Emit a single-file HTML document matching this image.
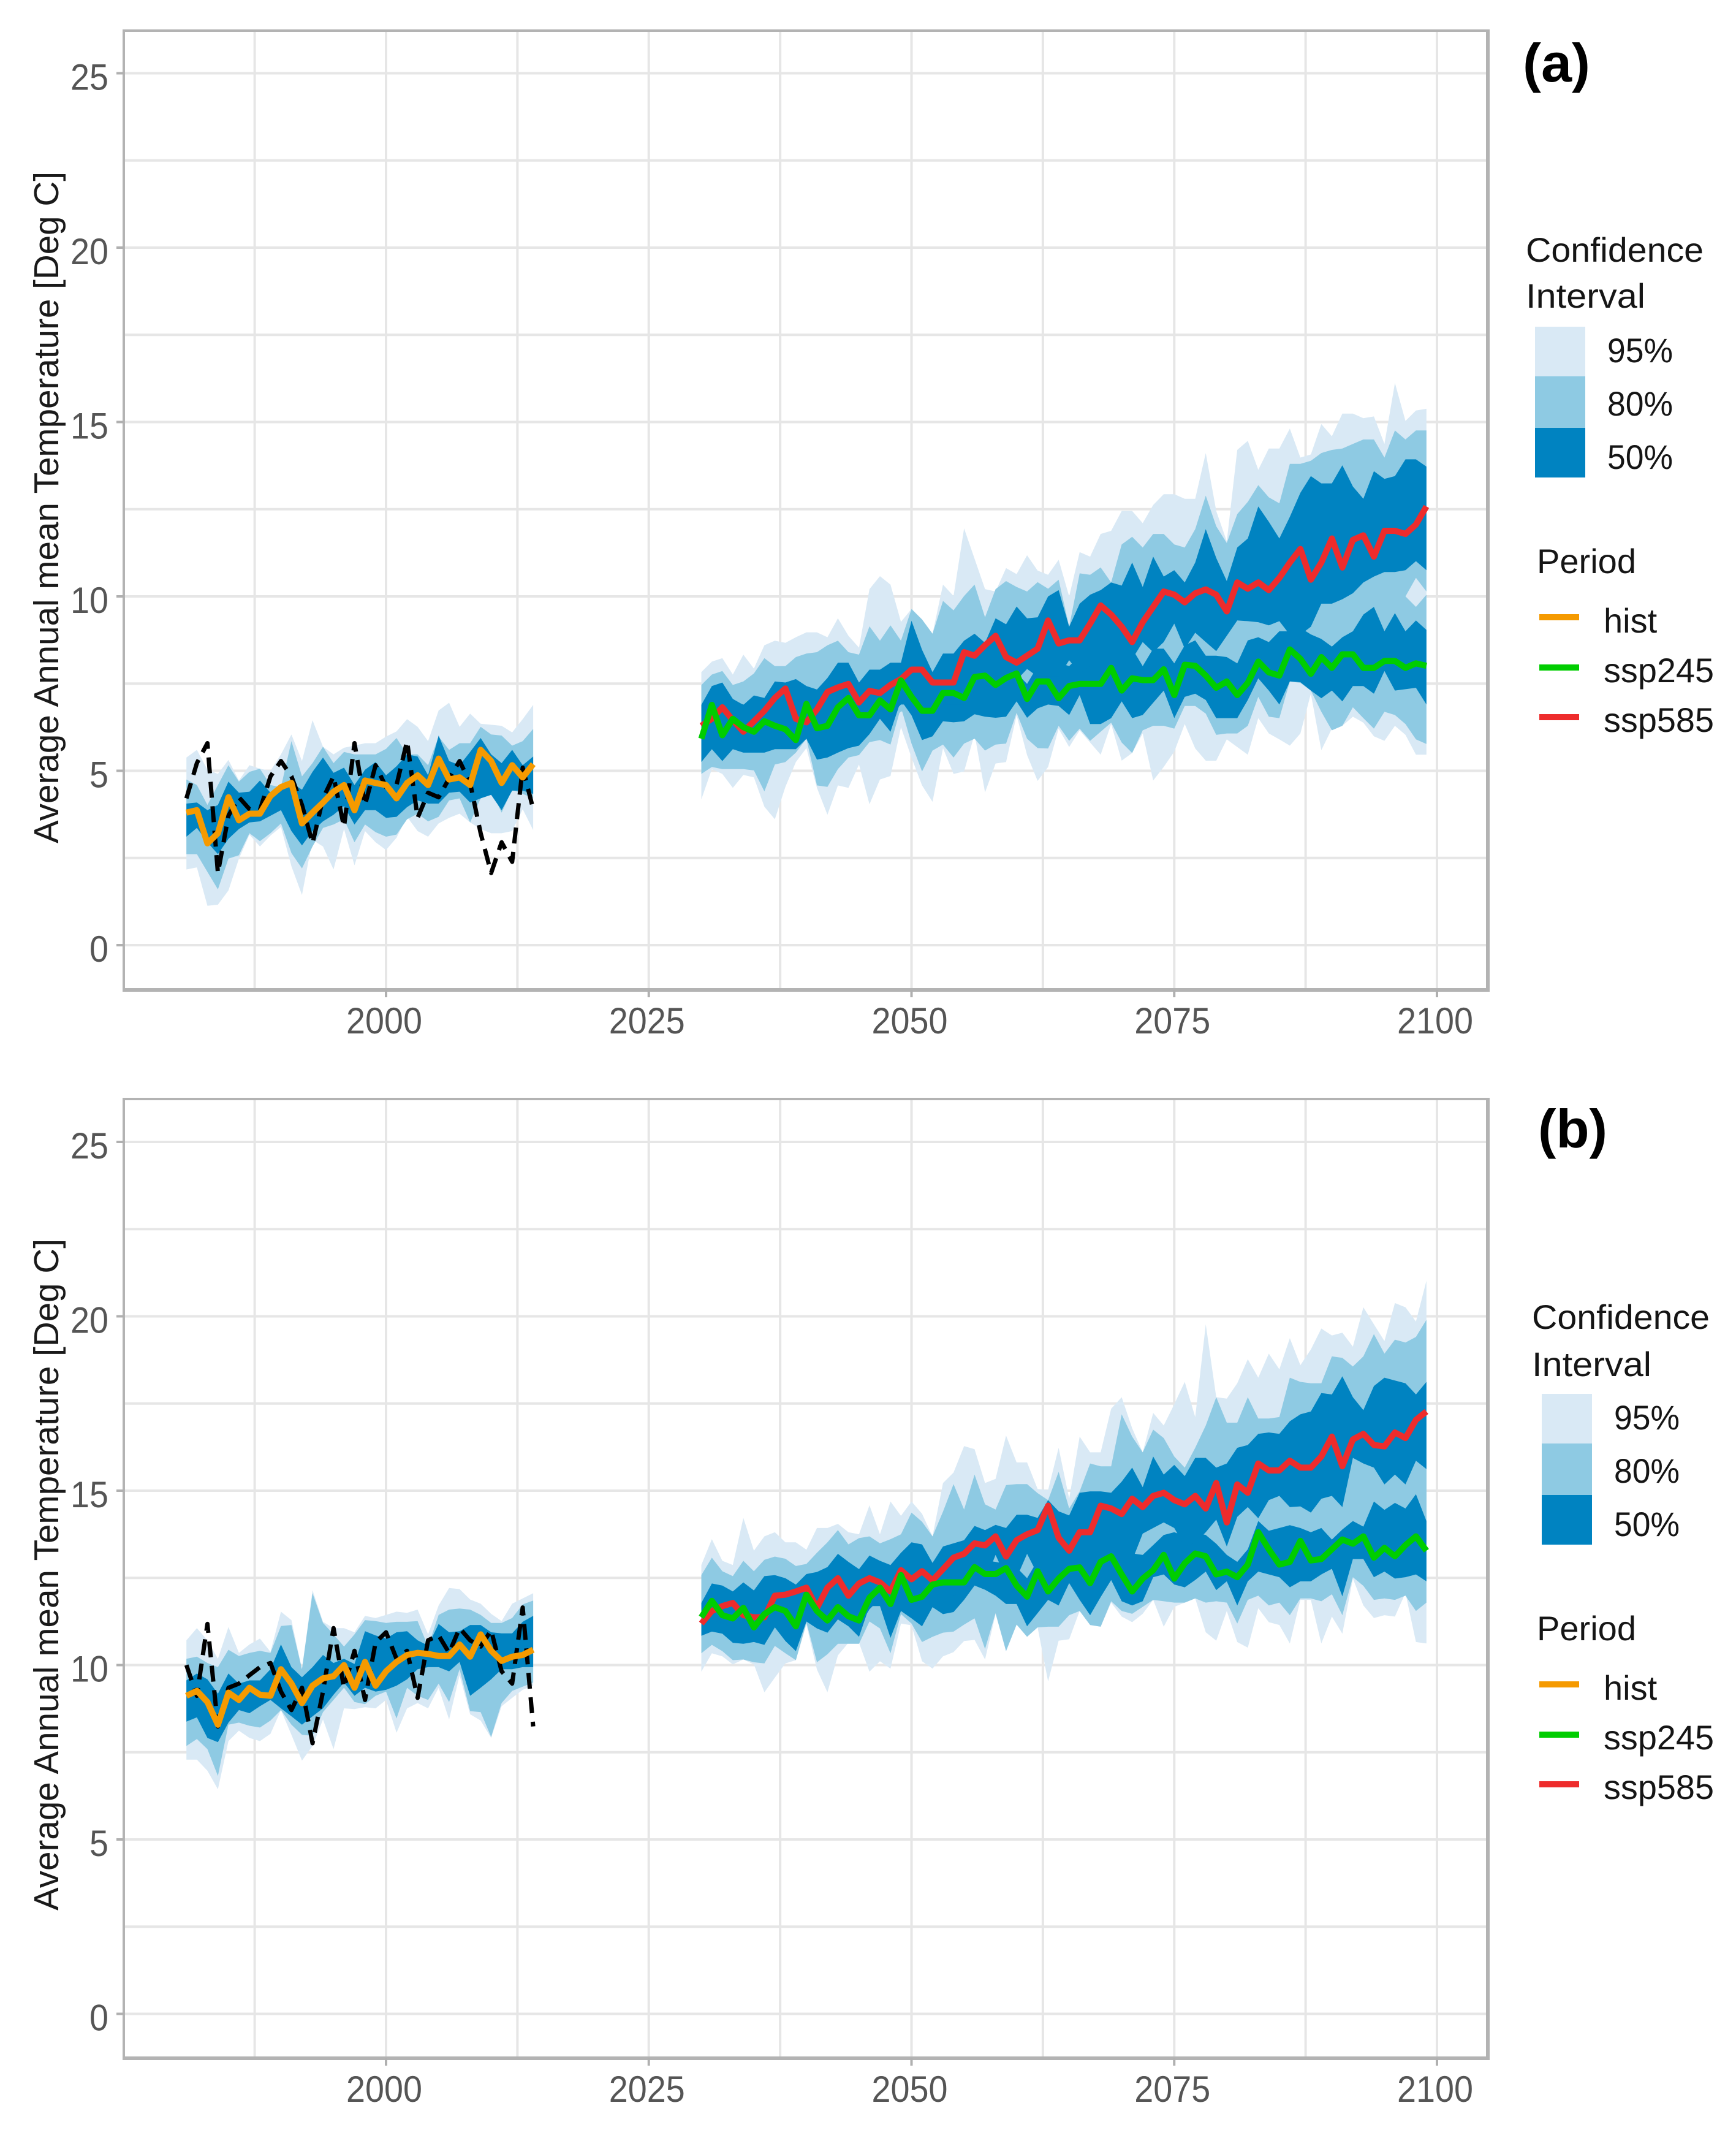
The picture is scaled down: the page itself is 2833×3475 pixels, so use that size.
<!DOCTYPE html>
<html lang="en">
<head>
<meta charset="utf-8">
<title>Average Annual mean Temperature projections</title>
<style>
html,body{margin:0;padding:0;background:#fff;}
svg{display:block;}
text{font-family:"Liberation Sans",Arial,sans-serif;}
.lg{font-size:56px;fill:#151515;}
.tag{font-size:88px;font-weight:bold;fill:#000;}
</style>
</head>
<body>
<svg id="chart" xmlns="http://www.w3.org/2000/svg" width="2833" height="3475" viewBox="0 0 2833 3475">
  <rect width="2833" height="3475" fill="#ffffff"/>
  <g id="panels"></g>

  <g>
    <text class="tag" x="2485" y="133" textLength="110" lengthAdjust="spacingAndGlyphs">(a)</text>
    <g>
      <text class="lg" x="2490" y="427" textLength="290" lengthAdjust="spacingAndGlyphs">Confidence</text>
      <text class="lg" x="2490" y="502" textLength="195" lengthAdjust="spacingAndGlyphs">Interval</text>
      <rect x="2505" y="533" width="82" height="82" fill="#d9e9f5"/>
      <rect x="2505" y="614" width="82" height="84" fill="#8ecae3"/>
      <rect x="2505" y="698" width="82" height="81" fill="#0083c1"/>
      <text class="lg" x="2623" y="591" textLength="107" lengthAdjust="spacingAndGlyphs">95%</text>
      <text class="lg" x="2623" y="678" textLength="107" lengthAdjust="spacingAndGlyphs">80%</text>
      <text class="lg" x="2623" y="765" textLength="107" lengthAdjust="spacingAndGlyphs">50%</text>
    </g>
    <g>
      <text class="lg" x="2508" y="935" textLength="162" lengthAdjust="spacingAndGlyphs">Period</text>
      <line x1="2512" x2="2577" y1="1007" y2="1007" stroke="#f59a00" stroke-width="10"/>
      <line x1="2512" x2="2577" y1="1089" y2="1089" stroke="#00cd00" stroke-width="10"/>
      <line x1="2512" x2="2577" y1="1170" y2="1170" stroke="#ee2c2c" stroke-width="10"/>
      <text class="lg" x="2617" y="1032">hist</text>
      <text class="lg" x="2617" y="1113" textLength="180" lengthAdjust="spacingAndGlyphs">ssp245</text>
      <text class="lg" x="2617" y="1194" textLength="180" lengthAdjust="spacingAndGlyphs">ssp585</text>
    </g>
  </g>

  <g>
    <text class="tag" x="2510" y="1872" textLength="113" lengthAdjust="spacingAndGlyphs">(b)</text>
    <g>
      <text class="lg" x="2500" y="2168" textLength="290" lengthAdjust="spacingAndGlyphs">Confidence</text>
      <text class="lg" x="2500" y="2245" textLength="195" lengthAdjust="spacingAndGlyphs">Interval</text>
      <rect x="2516" y="2274" width="82" height="82" fill="#d9e9f5"/>
      <rect x="2516" y="2355" width="82" height="84" fill="#8ecae3"/>
      <rect x="2516" y="2439" width="82" height="81" fill="#0083c1"/>
      <text class="lg" x="2634" y="2332" textLength="107" lengthAdjust="spacingAndGlyphs">95%</text>
      <text class="lg" x="2634" y="2419" textLength="107" lengthAdjust="spacingAndGlyphs">80%</text>
      <text class="lg" x="2634" y="2506" textLength="107" lengthAdjust="spacingAndGlyphs">50%</text>
    </g>
    <g>
      <text class="lg" x="2508" y="2676" textLength="162" lengthAdjust="spacingAndGlyphs">Period</text>
      <line x1="2512" x2="2577" y1="2748" y2="2748" stroke="#f59a00" stroke-width="10"/>
      <line x1="2512" x2="2577" y1="2830" y2="2830" stroke="#00cd00" stroke-width="10"/>
      <line x1="2512" x2="2577" y1="2911" y2="2911" stroke="#ee2c2c" stroke-width="10"/>
      <text class="lg" x="2617" y="2773">hist</text>
      <text class="lg" x="2617" y="2854" textLength="180" lengthAdjust="spacingAndGlyphs">ssp245</text>
      <text class="lg" x="2617" y="2935" textLength="180" lengthAdjust="spacingAndGlyphs">ssp585</text>
    </g>
  </g>
</svg>
<script>
/* axis tick values */
const yMajorTicks = [0, 5, 10, 15, 20, 25];
const yMinorGrid = [2.5, 7.5, 12.5, 17.5, 22.5];
const xMajorTicks = [2000, 2025, 2050, 2075, 2100];
const xMinorGrid = [1987.5, 2012.5, 2037.5, 2062.5, 2087.5];
const yAxisTitle = 'Average Annual mean Temperature [Deg C]';
const histStartYear = 1981;
const futureStartYear = 2030;

/* ---------- panel (a): historical, 1981-2014 ---------- */
const aHistMedian = [3.80,3.87,2.92,3.21,4.24,3.58,3.77,3.77,4.28,4.53,4.65,3.49,3.80,4.09,4.40,4.59,3.87,4.72,4.65,4.59,4.21,4.65,4.87,4.59,5.35,4.75,4.81,4.59,5.60,5.28,4.65,5.16,4.81,5.19];
const aObserved = [4.21,5.22,5.79,2.07,3.71,4.24,3.90,3.87,4.84,5.28,4.84,4.02,2.92,4.21,4.84,3.39,5.79,4.02,5.16,4.53,4.59,5.85,3.65,4.37,4.24,4.78,5.28,4.65,3.21,2.07,2.95,2.39,5.09,3.90];
const aHistHi95 = [5.38,5.60,5.03,4.91,5.31,4.72,5.16,5.06,5.00,5.47,6.04,5.28,6.45,5.69,5.47,5.66,5.72,5.79,5.79,5.98,6.13,6.48,6.26,5.85,6.73,6.95,6.26,6.64,6.35,6.32,6.29,6.10,6.48,6.89];
const aHistHi80 = [4.75,4.59,4.02,4.59,5.16,4.69,4.97,5.06,4.59,4.53,5.85,4.84,5.22,5.69,5.22,5.54,5.47,5.47,5.47,5.63,5.94,5.47,5.47,5.16,5.98,5.60,5.79,5.79,6.26,6.04,6.01,5.72,5.85,6.20];
const aHistHi50 = [4.06,4.09,3.87,4.02,4.69,4.37,4.40,4.72,4.37,4.59,4.65,4.46,4.97,5.38,4.94,5.09,4.59,5.03,5.25,4.87,5.13,5.47,5.41,4.87,6.01,5.28,5.16,5.54,5.94,5.47,5.22,5.60,5.16,5.41];
const aHistLo50 = [3.11,3.36,2.95,2.61,3.05,3.33,3.52,3.55,3.71,3.87,3.27,2.86,3.27,3.55,3.74,3.99,3.46,3.87,3.87,3.65,3.68,3.96,4.15,4.06,4.06,4.37,4.40,4.09,4.21,4.31,3.87,4.43,4.43,4.34];
const aHistLo80 = [2.61,2.61,2.10,1.60,2.48,2.58,3.21,2.98,3.21,3.49,2.64,2.20,2.83,3.36,3.46,3.61,2.95,3.46,3.24,3.11,3.17,3.61,3.77,3.55,3.68,4.15,4.21,3.52,4.21,4.43,3.80,4.46,4.34,4.21];
const aHistLo95 = [2.17,2.23,1.13,1.16,1.57,2.48,3.17,2.83,3.14,3.39,2.26,1.44,3.02,2.83,2.17,3.33,2.29,3.27,2.95,2.73,3.08,3.68,3.27,3.11,3.49,3.65,3.77,3.52,3.33,3.21,3.21,3.27,3.90,3.30];

/* ---------- panel (a): projections, 2030-2099 ---------- */
const aSsp585 = [6.29,6.49,6.82,6.45,6.12,6.42,6.72,7.09,7.36,6.49,6.39,6.76,7.26,7.39,7.49,6.96,7.29,7.23,7.46,7.63,7.90,7.90,7.53,7.53,7.53,8.40,8.30,8.60,8.87,8.26,8.10,8.30,8.50,9.31,8.65,8.74,8.74,9.22,9.74,9.48,9.13,8.69,9.26,9.70,10.14,10.05,9.83,10.09,10.20,10.05,9.57,10.40,10.22,10.40,10.18,10.53,10.97,11.36,10.48,10.97,11.66,10.83,11.62,11.75,11.14,11.88,11.88,11.79,12.06,12.58];
const aSsp245 = [5.92,6.89,6.02,6.49,6.25,6.12,6.42,6.29,6.19,5.88,6.92,6.22,6.29,6.82,7.09,6.59,6.59,7.02,6.76,7.59,7.12,6.72,6.72,7.23,7.23,7.09,7.69,7.73,7.46,7.66,7.79,7.06,7.56,7.56,7.08,7.43,7.49,7.49,7.49,7.95,7.30,7.65,7.60,7.60,7.91,7.17,8.04,8.01,7.73,7.38,7.56,7.17,7.52,8.13,7.82,7.73,8.48,8.21,7.78,8.26,7.95,8.34,8.34,7.95,7.95,8.15,8.15,7.95,8.08,8.01];
const aUpper95 = [7.83,8.13,8.23,7.76,8.33,7.93,8.60,8.73,8.67,8.83,8.97,8.97,8.83,9.37,8.87,8.53,10.21,10.58,10.34,9.27,9.64,9.34,8.93,10.34,10.01,11.95,11.08,10.21,10.14,10.81,10.64,11.18,10.74,10.62,11.05,10.00,11.27,11.14,11.79,11.88,12.45,12.45,12.10,12.62,12.93,12.93,12.80,12.80,14.11,12.45,11.58,14.20,14.46,13.63,14.24,14.24,14.81,13.98,14.07,14.94,14.59,15.24,15.24,15.11,15.16,14.37,16.12,15.03,15.33,15.38];
const aUpper80 = [7.46,7.76,7.86,7.46,7.56,7.79,8.23,8.00,8.00,8.26,8.36,8.40,8.60,8.73,8.40,8.33,9.14,8.73,9.17,8.73,9.64,9.34,8.93,9.87,9.60,10.01,10.34,9.40,10.21,10.44,10.27,10.14,10.41,10.22,10.48,9.13,10.66,10.62,10.83,10.40,11.49,11.71,11.40,11.79,11.79,11.49,11.40,11.93,12.89,12.01,11.53,12.36,12.71,13.19,12.84,12.67,13.80,13.80,13.89,14.11,14.20,14.24,14.37,14.50,14.50,13.98,14.76,14.50,14.76,14.76];
const aUpper50 = [6.89,7.43,7.53,7.06,6.89,7.16,7.09,7.56,7.53,7.63,7.43,7.33,7.66,8.10,8.10,7.53,7.90,7.90,8.10,8.10,9.30,8.47,7.83,8.36,8.36,8.73,8.93,8.67,9.37,9.20,9.71,9.37,9.40,10.00,10.18,9.13,9.79,10.05,10.18,10.40,10.31,10.97,10.27,11.14,10.57,10.75,10.40,10.97,11.93,11.10,10.44,11.40,11.66,12.58,12.14,11.66,12.28,12.97,13.45,13.24,13.24,13.76,13.15,12.80,13.59,13.37,13.45,13.93,13.93,13.72];
const aLower50 = [5.25,5.62,5.28,5.62,5.52,5.52,5.52,5.62,5.62,5.62,5.92,5.32,5.38,5.52,5.65,5.72,6.05,6.49,6.12,7.02,6.59,5.88,5.99,6.42,6.39,6.42,6.62,6.55,6.52,6.55,6.99,6.52,6.79,6.90,6.86,6.60,7.17,6.34,6.34,6.51,6.99,6.51,6.60,6.95,7.30,6.51,7.12,7.21,7.03,6.51,6.51,6.51,7.03,7.65,7.30,6.90,7.56,7.54,7.30,7.08,7.30,6.99,7.43,7.43,7.21,7.86,7.30,7.34,7.38,6.90];
const aLower80 = [4.91,5.11,5.05,5.05,5.05,5.01,4.41,5.18,5.25,5.52,5.92,4.58,4.54,5.05,5.38,5.45,5.82,5.88,5.75,6.82,5.78,4.98,5.58,5.75,5.38,5.78,5.92,5.58,5.75,5.78,6.66,5.92,5.65,5.64,6.29,5.86,6.21,5.86,6.12,6.38,5.81,5.51,6.16,6.29,6.29,6.21,6.86,6.86,6.64,6.03,6.07,6.07,6.29,7.12,6.55,6.51,7.56,7.52,7.30,6.69,6.16,6.29,6.82,6.51,6.21,6.69,6.60,6.34,5.90,5.77];
const aLower95 = [4.18,5.05,4.91,4.51,4.88,4.81,3.97,3.61,4.54,5.25,5.65,4.51,3.74,4.58,4.51,5.18,4.04,4.75,4.85,6.25,5.38,4.58,4.11,5.65,4.91,4.98,6.05,4.38,5.21,5.25,6.59,5.45,4.71,5.11,6.21,5.68,6.16,5.81,5.46,6.34,5.29,5.51,6.07,4.72,5.11,5.55,6.34,5.64,5.29,5.29,5.90,5.68,5.46,6.51,6.07,5.90,5.72,6.07,7.21,5.59,6.21,6.29,6.55,6.38,5.99,5.86,6.29,6.03,5.46,5.46];
const aSsp245Hi50 = [6.7,7.2,7.1,7.0,6.9,6.9,7.0,7.0,7.0,6.9,7.2,7.0,7.1,7.3,7.4,7.2,7.3,7.5,7.4,7.9,7.7,7.4,7.5,7.7,7.7,7.7,8.0,8.0,7.9,8.0,7.8,7.49,8.0,8.1,8.1,8.00,8.3,8.4,8.4,8.5,8.4,8.5,8.00,8.5,8.50,8.08,8.6,8.74,8.30,8.30,8.26,8.08,8.74,8.83,8.69,9.00,9.0,9.1,8.91,8.78,8.56,8.83,9.00,9.48,9.70,9.00,9.52,9.00,9.31,9.04];
const aSsp585Lo50 = [6.0,6.2,6.2,6.0,6.0,6.0,6.0,6.0,6.0,5.9,6.2,6.0,6.1,6.4,6.5,6.4,6.4,6.6,6.6,6.9,6.9,6.6,6.6,6.9,6.9,6.9,7.3,7.3,7.3,7.4,7.6,7.92,7.7,7.7,7.7,8.17,7.8,8.0,8.0,8.0,8.0,8.2,8.69,8.4,8.69,9.22,8.5,8.96,8.69,8.43,8.87,9.31,9.29,9.26,9.17,9.29,8.9,8.9,9.13,9.79,9.79,9.92,10.09,10.40,10.57,10.70,10.70,10.75,11.01,10.75];
const aSsp245Hi80 = [7.0,7.4,7.3,7.2,7.1,7.1,7.2,7.2,7.2,7.1,7.4,7.2,7.3,7.5,7.6,7.4,7.5,7.7,7.6,8.1,7.9,7.6,7.7,7.9,7.9,7.9,8.2,8.2,8.1,8.2,8.0,8.2,8.2,8.3,8.3,8.4,8.5,8.6,8.6,8.7,8.6,8.7,8.9,8.7,8.9,9.4,8.8,9.1,8.9,8.7,9.1,9.5,9.5,9.5,9.4,9.5,9.2,9.3,9.4,10.0,10.0,10.1,10.3,10.6,10.7,10.0,10.0,10.0,9.70,10.05];
const aSsp585Lo80 = [5.8,6.0,6.0,5.9,5.8,5.8,5.8,5.8,5.8,5.7,6.0,5.8,5.9,6.2,6.3,6.2,6.2,6.4,6.4,6.7,6.7,6.4,6.4,6.7,6.7,6.7,7.1,7.1,7.1,7.2,7.4,7.3,7.5,7.5,7.5,7.8,7.6,7.8,7.8,7.8,7.8,8.0,7.8,8.2,8.2,7.9,8.3,8.5,8.1,8.1,8.1,7.9,8.5,8.6,8.5,8.8,8.7,8.7,8.7,8.6,8.4,8.6,8.8,9.3,9.5,9.5,9.7,10.0,10.53,10.14];

/* ---------- panel (b): historical, 1981-2014 ---------- */
const bHistMedian = [9.12,9.26,8.94,8.29,9.21,9.00,9.35,9.15,9.12,9.88,9.47,8.91,9.41,9.62,9.68,10.00,9.35,10.09,9.41,9.82,10.09,10.29,10.35,10.32,10.26,10.26,10.59,10.24,10.88,10.41,10.12,10.24,10.29,10.44];
const bObserved = [10.00,9.12,11.18,8.24,9.35,9.47,9.71,9.94,10.06,9.24,8.71,9.35,7.76,9.24,11.06,9.35,10.41,9.00,10.65,10.94,10.18,10.41,9.06,10.71,10.85,10.35,11.06,10.71,10.53,11.00,9.82,9.47,11.65,8.24];
const bHistHi95 = [10.71,11.06,10.71,10.18,11.09,10.35,10.59,10.76,10.38,11.53,11.29,9.88,12.15,11.24,11.06,11.06,10.94,11.41,11.35,11.44,11.53,11.50,11.59,10.88,11.71,12.21,12.18,11.88,11.76,11.47,11.26,11.76,11.91,12.06];
const bHistHi80 = [10.18,10.24,10.06,9.94,10.44,10.26,10.35,10.41,10.35,11.12,11.15,9.88,12.06,11.21,10.88,10.53,10.88,11.29,11.26,11.21,11.24,11.24,11.26,10.53,11.44,11.59,11.62,11.59,11.44,11.21,11.21,11.35,11.74,11.85];
const bHistHi50 = [9.56,9.76,9.59,9.18,9.76,9.47,9.56,9.56,9.88,10.59,9.94,9.65,9.94,10.29,10.06,10.18,10.03,10.97,10.85,10.76,10.94,10.97,10.71,10.56,11.18,10.94,10.97,11.15,11.15,10.94,10.91,10.91,11.24,11.41];
const bHistLo50 = [8.38,8.50,7.91,7.79,8.35,8.71,8.62,8.82,9.00,8.76,8.53,8.29,8.53,8.76,9.15,9.50,9.12,9.35,9.24,9.29,9.41,9.59,9.88,9.94,9.94,9.82,10.09,9.12,9.35,9.59,9.88,9.88,9.94,9.94];
const bHistLo80 = [7.68,7.88,7.59,6.82,8.29,8.35,8.26,8.21,8.41,8.71,8.29,8.00,7.97,8.65,9.00,9.35,8.94,8.88,9.12,9.24,8.47,9.35,9.12,9.00,9.47,8.94,9.88,8.68,8.65,7.94,8.91,9.26,9.38,9.50];
const bHistLo95 = [7.29,7.29,6.97,6.44,7.82,8.12,7.91,7.82,8.03,8.71,8.00,7.26,7.68,8.44,7.59,8.76,8.74,8.79,8.76,9.00,8.06,8.76,8.91,8.76,9.35,8.44,9.71,8.59,8.41,7.91,8.82,9.06,9.29,9.41];

/* ---------- panel (b): projections, 2030-2099 ---------- */
const bSsp585 = [11.19,11.55,11.69,11.78,11.43,11.37,11.37,11.99,12.02,12.11,12.22,11.64,12.22,12.49,11.99,12.34,12.49,12.37,12.11,12.72,12.46,12.69,12.43,12.75,13.08,13.19,13.49,13.43,13.69,13.11,13.58,13.75,13.87,14.57,13.65,13.28,13.81,13.81,14.57,14.49,14.33,14.77,14.53,14.85,14.94,14.73,14.61,14.85,14.49,15.22,14.09,15.18,14.94,15.78,15.58,15.58,15.86,15.66,15.66,15.98,16.55,15.70,16.47,16.63,16.31,16.27,16.67,16.51,17.03,17.27];
const bSsp245 = [11.37,11.84,11.43,11.34,11.64,11.08,11.46,11.66,11.55,11.11,12.02,11.55,11.28,11.66,11.40,11.28,11.93,12.22,11.75,12.58,11.87,11.96,12.31,12.37,12.37,12.37,12.81,12.61,12.61,12.78,12.28,11.96,12.69,12.11,12.48,12.76,12.80,12.35,12.96,13.12,12.60,12.11,12.48,12.72,13.16,12.48,12.92,13.20,13.12,12.60,12.68,12.52,12.88,13.81,13.32,12.88,12.96,13.56,13.00,13.04,13.32,13.60,13.48,13.69,13.08,13.36,13.12,13.44,13.69,13.28];
const bUpper95 = [12.87,13.61,12.99,12.87,14.22,13.28,13.69,13.81,13.52,13.52,13.31,13.93,13.93,14.05,13.81,13.75,14.58,13.75,14.69,14.28,14.69,14.34,13.69,15.22,15.52,16.28,16.19,15.22,15.34,16.58,15.81,15.81,15.05,15.02,16.23,14.77,16.55,16.10,16.10,17.35,17.68,16.79,16.10,17.23,16.87,17.48,18.12,17.11,19.77,17.68,17.64,18.08,18.77,18.24,18.93,18.48,19.37,18.60,19.05,19.65,19.45,19.53,19.13,20.26,19.77,19.29,20.38,20.26,19.85,21.02];
const bUpper80 = [12.58,13.08,12.69,12.55,12.99,12.69,13.02,13.11,13.05,12.84,12.90,13.22,13.52,13.87,13.46,13.64,13.69,13.49,13.61,13.75,14.37,14.11,13.69,14.40,15.19,14.46,15.46,14.61,14.46,15.16,15.19,15.19,14.93,14.73,15.54,14.49,14.98,15.78,15.70,15.70,17.19,16.55,16.10,16.75,16.51,15.98,15.66,16.23,16.87,17.68,16.95,16.95,17.68,17.07,17.07,17.11,18.24,18.12,18.08,18.08,18.85,18.81,18.56,18.85,19.49,18.93,19.33,19.25,19.41,19.90];
const bUpper50 = [11.78,12.34,12.28,12.11,12.37,12.14,12.55,12.58,12.49,12.31,12.61,12.67,12.81,13.19,12.96,12.75,13.14,12.99,12.87,13.22,13.52,13.46,12.93,13.40,13.49,13.58,13.99,13.87,14.02,13.93,14.31,14.31,14.22,14.73,14.41,14.29,14.94,14.98,14.98,14.94,15.26,15.66,15.10,15.98,15.46,15.74,15.42,15.94,15.94,15.66,15.78,16.23,16.31,16.63,16.67,16.63,16.99,17.19,17.27,17.80,17.76,18.28,17.68,17.31,18.00,18.24,18.16,18.08,17.76,18.12];
const bLower50 = [10.84,10.96,10.90,10.64,10.61,10.66,10.58,11.08,10.69,10.40,11.25,11.05,10.93,11.31,11.11,10.81,11.69,11.69,10.78,11.55,11.34,11.11,11.66,11.46,11.52,11.87,12.28,12.16,11.99,11.75,11.75,11.11,11.49,11.87,11.71,12.35,11.87,11.43,11.95,12.44,11.83,11.71,11.83,12.52,12.60,12.31,12.23,12.44,12.68,12.15,12.40,11.71,12.40,12.68,12.60,12.52,12.23,12.40,12.40,12.60,12.76,11.97,13.04,13.04,12.52,12.68,12.48,12.52,12.60,12.40];
const bLower80 = [10.34,10.58,10.40,10.14,10.16,10.08,10.05,10.55,10.34,10.14,11.22,10.08,10.31,10.61,10.61,10.61,11.25,11.05,10.34,11.46,11.19,10.66,10.81,10.93,10.96,11.16,11.34,10.46,11.49,10.40,11.16,10.81,11.08,11.10,11.10,11.43,11.55,11.15,11.10,11.83,11.55,11.47,11.67,11.87,11.83,11.79,11.79,11.91,11.79,11.83,11.79,11.19,11.87,11.99,11.71,11.79,11.43,11.91,11.91,11.83,12.03,11.43,12.52,12.27,11.87,11.91,11.87,11.99,11.55,11.79];
const bLower95 = [9.81,10.34,10.25,10.02,10.16,10.02,9.22,9.64,10.05,10.14,11.16,9.87,9.22,10.28,10.64,10.64,9.81,10.11,9.90,11.19,11.14,10.11,9.90,10.25,10.37,10.69,10.72,10.16,11.46,10.40,11.22,10.93,11.08,9.53,10.70,10.74,11.55,11.15,11.10,11.79,11.39,11.23,11.47,11.87,11.10,11.67,11.79,11.91,10.94,10.70,11.55,10.66,10.50,11.63,11.23,11.15,10.62,11.87,11.87,10.62,11.39,10.90,12.48,11.71,11.35,11.43,11.39,12.07,10.66,10.62];
const bSsp245Hi50 = [11.7,12.0,11.9,11.9,11.9,11.8,11.8,12.0,12.0,12.0,12.2,11.9,12.1,12.2,12.0,12.2,12.3,12.4,12.2,12.7,12.4,12.5,12.5,12.7,12.8,12.9,13.0,13.0,12.96,12.9,12.8,12.49,13.0,13.0,13.0,13.1,13.1,13.2,13.3,13.4,13.2,13.2,13.16,13.44,13.73,13.81,13.7,13.8,13.73,13.48,13.16,12.96,13.32,14.13,13.85,13.93,14.01,13.93,13.81,13.93,13.60,13.89,14.13,13.97,14.69,14.45,14.65,14.49,14.90,14.13];
const bSsp585Lo50 = [11.0,11.3,11.2,11.1,11.2,11.0,11.1,11.3,11.3,11.0,11.6,11.2,11.0,11.4,11.2,11.1,11.6,11.9,11.5,12.1,11.8,11.7,12.0,12.0,12.0,12.1,12.6,12.4,13.16,12.5,12.5,13.19,12.6,12.7,12.6,12.6,12.7,12.8,12.9,13.0,12.9,13.0,13.77,13.93,14.09,13.93,13.4,13.5,13.81,14.17,13.40,14.25,14.53,14.21,14.73,14.85,14.53,14.55,14.37,14.77,14.85,14.53,15.94,15.78,15.66,15.18,15.46,15.18,15.86,15.62];
const bSsp245Hi80 = [11.3,11.6,11.5,11.4,11.5,11.3,11.4,11.6,11.6,11.3,11.9,11.5,11.3,11.7,11.5,11.4,11.9,12.2,11.8,12.4,12.1,12.0,12.3,12.3,12.3,12.4,12.9,12.7,13.5,12.8,12.8,13.5,12.9,13.0,12.9,12.9,13.0,13.1,13.2,13.3,13.2,13.3,14.1,14.2,14.4,14.2,13.7,13.8,14.1,14.5,13.7,14.5,14.8,14.5,15.0,15.1,14.8,14.8,14.7,15.1,15.1,14.8,16.2,16.0,15.9,15.5,15.7,15.5,16.1,15.9];
const bSsp585Lo80 = [11.2,11.5,11.4,11.4,11.4,11.3,11.3,11.5,11.5,11.3,11.7,11.4,11.3,11.7,11.5,11.4,11.8,11.9,11.7,12.2,11.9,12.0,12.0,12.2,12.3,12.4,12.5,12.5,12.5,12.4,12.3,12.0,12.5,12.5,12.5,12.6,12.6,12.7,12.8,12.9,12.7,12.7,12.7,13.0,13.2,13.3,13.2,13.3,13.2,13.0,12.7,12.5,12.8,13.6,13.4,13.4,13.5,13.4,13.3,13.4,13.1,13.4,13.6,13.5,14.2,14.0,14.2,14.0,14.4,13.6];

const SVGNS = 'http://www.w3.org/2000/svg';
const COLORS = { c95: '#d9e9f5', c80: '#8ecae3', c50: '#0083c1', hist: '#f59a00', ssp245: '#00cd00', ssp585: '#ee2c2c' };
const LEFT = 202, RIGHT = 2428;

function xScale(year) { return 630 + 17.15 * (year - 2000); }
function yScale(value, frame) { return frame.zeroY - 56.9 * value; }

function make(parent, tag, attrs) {
  const el = document.createElementNS(SVGNS, tag);
  for (const key in attrs) el.setAttribute(key, attrs[key]);
  parent.appendChild(el);
  return el;
}

function linePath(values, start, frame) {
  return values.map(function (v, i) {
    return (i ? 'L' : 'M') + xScale(start + i).toFixed(1) + ' ' + yScale(v, frame).toFixed(1);
  }).join(' ');
}

function ribbon(parent, upper, lower, start, frame, fill, name) {
  let d = linePath(upper, start, frame);
  for (let i = lower.length - 1; i >= 0; i--) {
    d += ' L' + xScale(start + i).toFixed(1) + ' ' + yScale(lower[i], frame).toFixed(1);
  }
  const el = make(parent, 'path', { d: d + ' Z', fill: fill });
  
  
}

function seriesLine(parent, values, start, frame, color, width, name, dash) {
  const el = make(parent, 'path', {
    d: linePath(values, start, frame), fill: 'none', stroke: color,
    'stroke-width': width, 'stroke-linejoin': 'round'
  });
  if (dash) el.setAttribute('stroke-dasharray', dash);
  
  
}

function drawFrame(g, frame) {
  yMinorGrid.concat(yMajorTicks).forEach(function (t) {
    const y = yScale(t, frame);
    const el = make(g, 'line', { x1: LEFT, x2: RIGHT, y1: y, y2: y, stroke: '#e6e6e6', 'stroke-width': 4 });
    
    
  });
  xMinorGrid.concat(xMajorTicks).forEach(function (t) {
    const x = xScale(t);
    const el = make(g, 'line', { x1: x, x2: x, y1: frame.top, y2: frame.bottom, stroke: '#e6e6e6', 'stroke-width': 4 });
    
    
  });
}

function drawAxes(g, frame) {
  const sides = [
    [LEFT, frame.top, LEFT, frame.bottom, 4],
    [LEFT - 2, frame.top, RIGHT + 3, frame.top, 4],
    [RIGHT, frame.top, RIGHT, frame.bottom + 3, 6],
    [LEFT - 2, frame.bottom, RIGHT + 3, frame.bottom, 6]
  ];
  sides.forEach(function (s) {
    const el = make(g, 'line', { x1: s[0], y1: s[1], x2: s[2], y2: s[3], stroke: '#b3b3b3', 'stroke-width': s[4] });
    
    
  });
  yMajorTicks.forEach(function (t) {
    const y = yScale(t, frame);
    const tick = make(g, 'line', { x1: LEFT - 12, x2: LEFT, y1: y, y2: y, stroke: '#b0b0b0', 'stroke-width': 4 });
    
    
    const label = make(g, 'text', {
      x: 177, y: y + 27, 'text-anchor': 'end', 'font-size': 60, fill: '#555555',
      textLength: String(t).length * 31, lengthAdjust: 'spacingAndGlyphs'
    });
    label.textContent = String(t);
    
    
  });
  xMajorTicks.forEach(function (t) {
    const x = xScale(t);
    const tick = make(g, 'line', { x1: x, x2: x, y1: frame.bottom, y2: frame.bottom + 12, stroke: '#b0b0b0', 'stroke-width': 4 });
    
    
    const label = make(g, 'text', {
      x: x - 3, y: frame.bottom + 71, 'text-anchor': 'middle', 'font-size': 60, fill: '#555555',
      textLength: 124, lengthAdjust: 'spacingAndGlyphs'
    });
    label.textContent = String(t);
    
    
  });
  const title = make(g, 'text', {
    transform: 'translate(95 ' + frame.titleBottom + ') rotate(-90)',
    'font-size': 57, fill: '#1a1a1a', textLength: 1096, lengthAdjust: 'spacingAndGlyphs'
  });
  title.textContent = yAxisTitle;
  
  
}

function drawHist(g, frame, hi95, hi80, hi50, lo50, lo80, lo95, observed, median) {
  ribbon(g, hi95, lo95, histStartYear, frame, COLORS.c95, 'hist-band-95');
  ribbon(g, hi80, lo80, histStartYear, frame, COLORS.c80, 'hist-band-80');
  ribbon(g, hi50, lo50, histStartYear, frame, COLORS.c50, 'hist-band-50');
  seriesLine(g, observed, histStartYear, frame, '#000000', 7, 'observed-dashed-line', '26 14');
  seriesLine(g, median, histStartYear, frame, COLORS.hist, 10, 'hist-median-line');
}

function drawFuture(g, frame, f) {
  ribbon(g, f.upper95, f.lower95, futureStartYear, frame, COLORS.c95, 'projection-band-95');
  ribbon(g, f.hi80245, f.lower80, futureStartYear, frame, COLORS.c80, 'ssp245-band-80');
  ribbon(g, f.upper80, f.lo80585, futureStartYear, frame, COLORS.c80, 'ssp585-band-80');
  ribbon(g, f.hi50245, f.lower50, futureStartYear, frame, COLORS.c50, 'ssp245-band-50');
  ribbon(g, f.upper50, f.lo50585, futureStartYear, frame, COLORS.c50, 'ssp585-band-50');
  seriesLine(g, f.ssp585, futureStartYear, frame, COLORS.ssp585, 10, 'ssp585-median-line');
  seriesLine(g, f.ssp245, futureStartYear, frame, COLORS.ssp245, 10, 'ssp245-median-line');
}

const root = document.getElementById('panels');

const frameA = { zeroY: 1542, top: 50, bottom: 1615, titleBottom: 1376 };
const gA = make(root, 'g', {});


drawFrame(gA, frameA);
drawHist(gA, frameA, aHistHi95, aHistHi80, aHistHi50, aHistLo50, aHistLo80, aHistLo95, aObserved, aHistMedian);
drawFuture(gA, frameA, {
  upper95: aUpper95, upper80: aUpper80, upper50: aUpper50,
  lower95: aLower95, lower80: aLower80, lower50: aLower50,
  hi50245: aSsp245Hi50, lo50585: aSsp585Lo50, hi80245: aSsp245Hi80, lo80585: aSsp585Lo80,
  ssp245: aSsp245, ssp585: aSsp585
});
drawAxes(gA, frameA);

const frameB = { zeroY: 3285.5, top: 1793, bottom: 3358, titleBottom: 3117 };
const gB = make(root, 'g', {});


drawFrame(gB, frameB);
drawHist(gB, frameB, bHistHi95, bHistHi80, bHistHi50, bHistLo50, bHistLo80, bHistLo95, bObserved, bHistMedian);
drawFuture(gB, frameB, {
  upper95: bUpper95, upper80: bUpper80, upper50: bUpper50,
  lower95: bLower95, lower80: bLower80, lower50: bLower50,
  hi50245: bSsp245Hi50, lo50585: bSsp585Lo50, hi80245: bSsp245Hi80, lo80585: bSsp585Lo80,
  ssp245: bSsp245, ssp585: bSsp585
});
drawAxes(gB, frameB);
</script>
</body>
</html>
